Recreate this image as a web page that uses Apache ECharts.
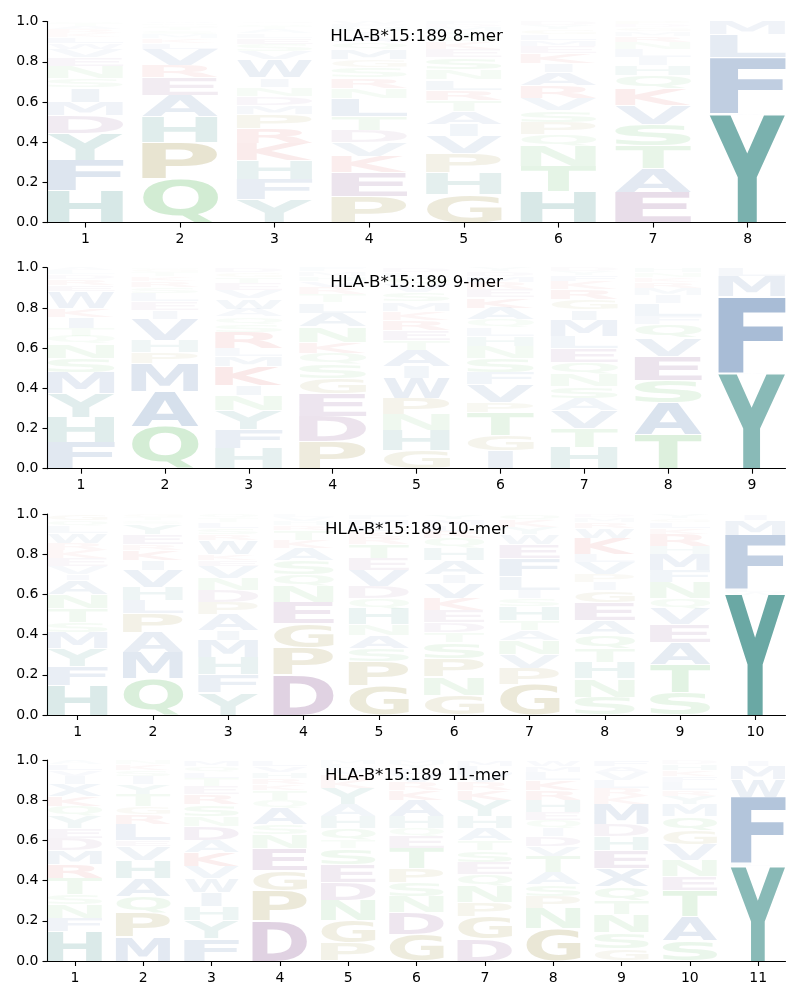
<!DOCTYPE html>
<html>
<head>
<meta charset="utf-8">
<script src="https://cdn.jsdelivr.net/npm/echarts@6/dist/echarts.min.js"></script>
<style>html,body{margin:0;padding:0;background:#fff}#chart{width:800px;height:1000px}</style>
</head>
<body>
<div id="chart"></div>
<script>
// ---------------- data ----------------
const panelTitles = ["HLA-B*15:189 8-mer", "HLA-B*15:189 9-mer", "HLA-B*15:189 10-mer", "HLA-B*15:189 11-mer"];
const positions8 = [1, 2, 3, 4, 5, 6, 7, 8];
const positions9 = [1, 2, 3, 4, 5, 6, 7, 8, 9];
const positions10 = [1, 2, 3, 4, 5, 6, 7, 8, 9, 10];
const positions11 = [1, 2, 3, 4, 5, 6, 7, 8, 9, 10, 11];
const yTickLabels = ["0.0", "0.2", "0.4", "0.6", "0.8", "1.0"];

// letters per position, bottom to top
const letters8 = [
  "HFYDMISNEVWLKRATQ", "QPHAERVLKMSTGNW", "YFHKRPMDNIWVSELATQG", "PEKVDTLNRSGMQAIHFW",
  "GHPVIATRLNSEKQYMDF", "HTNQPSVRAIKEMLGYD", "EATSVKQHILNRMGDP", "YWFLM"
];
const heights8 = [
  [.16,.15,.135,.09,.065,.07,.045,.06,.045,.04,.03,.03,.02,.02,.015,.015,.01],
  [.22,.18,.125,.11,.085,.06,.08,.03,.025,.02,.02,.015,.01,.01,.01],
  [.113,.102,.095,.085,.075,.07,.045,.045,.045,.045,.09,.04,.035,.03,.025,.02,.015,.015,.01],
  [.13,.12,.08,.07,.06,.07,.09,.05,.05,.05,.04,.05,.035,.03,.025,.02,.015,.015],
  [.14,.11,.095,.085,.06,.065,.055,.05,.05,.05,.06,.04,.035,.03,.025,.02,.015,.015],
  [.155,.125,.10,.06,.06,.06,.06,.06,.065,.045,.05,.035,.03,.03,.025,.02,.02],
  [.15,.12,.115,.105,.095,.08,.065,.05,.04,.04,.035,.03,.025,.02,.015,.015],
  [.535,.01,.275,.115,.065]
];
const letters9 = [
  "FHYMSNQTIKWERDLA", "QAMPHVIELSRKTGN", "HFYNIKMLRSQAWVETGD", "PDEGSQKNALTRVHMF",
  "GHNPWIATERKMSVQLD", "IGTPVFSNHLQAKERMDY", "HTVASNQELMIGRKFYD", "TASEVQFLIMRKNH", "YWFML"
];
const heights9 = [
  [.13,.125,.12,.105,.07,.07,.04,.04,.055,.045,.08,.03,.03,.025,.02,.015],
  [.21,.175,.14,.055,.06,.105,.045,.04,.04,.03,.03,.025,.02,.015,.01],
  [.10,.095,.095,.075,.05,.095,.05,.04,.08,.04,.035,.04,.05,.04,.035,.03,.025,.025],
  [.135,.125,.115,.075,.07,.055,.055,.075,.07,.05,.04,.035,.03,.025,.025,.02],
  [.09,.10,.08,.08,.10,.06,.08,.05,.05,.05,.045,.045,.045,.04,.035,.025,.025],
  [.09,.075,.115,.05,.09,.06,.07,.06,.05,.04,.04,.06,.05,.04,.035,.03,.025,.02],
  [.105,.095,.09,.06,.06,.06,.06,.07,.06,.08,.05,.05,.05,.04,.03,.02,.02],
  [.17,.16,.11,.12,.09,.07,.04,.06,.04,.035,.03,.025,.025,.025],
  [.47,.01,.375,.10,.045]
];
const letters10 = [
  "HFYMSTNAIVEKRWLQG", "QMAPLHVIKREYSTG", "YFHMIAPDNVEKWRSLTQ", "DPGENQSAKTRHVL",
  "GPSANHQDVETRKLMF", "GNPSTDEKVIAHQRLMY", "GPVNATHSILFEWYKQ", "SNHTQAEGIPVLKWRMD",
  "STAEVQNFMHRKLGY", "YWLFMI"
];
const heights10 = [
  [.145,.095,.09,.08,.05,.07,.07,.07,.03,.04,.04,.04,.035,.05,.035,.03,.03],
  [.18,.13,.10,.095,.065,.065,.085,.05,.05,.03,.05,.05,.02,.015,.015],
  [.11,.09,.085,.085,.05,.08,.06,.06,.06,.06,.03,.03,.07,.03,.03,.03,.02,.02],
  [.20,.135,.12,.105,.08,.06,.07,.06,.04,.05,.025,.02,.02,.015],
  [.145,.12,.065,.065,.055,.08,.05,.06,.08,.06,.07,.035,.03,.03,.03,.025],
  [.10,.09,.09,.08,.05,.05,.06,.06,.075,.045,.07,.06,.05,.035,.03,.03,.025],
  [.15,.08,.07,.07,.05,.05,.07,.04,.04,.07,.09,.07,.05,.035,.035,.03],
  [.09,.09,.08,.07,.07,.07,.09,.06,.04,.04,.06,.04,.08,.05,.03,.025,.015],
  [.11,.14,.11,.09,.08,.05,.08,.06,.08,.04,.06,.03,.03,.02,.02],
  [.597,.014,.014,.27,.075,.03]
];
const letters11 = [
  "HFNSTRMDEYQKXIVLA", "MPQAHVELRGTYISKN", "FYHIWVKADNSRETLQM", "DPGENSAQTKRHVL",
  "PGNDESTQHAYKRVLM", "GDNSPTEQHAKRVLYM", "DGPNQESTAHYKRVLM", "GNPSATVDIQEHRKLMW",
  "GSNTQXEHDMKRLVAF", "SATENVGQMYRLFKHD", "YLFWMI"
];
const heights11 = [
  [.145,.065,.07,.05,.08,.07,.07,.06,.05,.06,.05,.05,.06,.04,.03,.03,.02],
  [.12,.12,.08,.09,.09,.07,.03,.08,.05,.04,.06,.05,.04,.03,.03,.02],
  [.11,.09,.07,.07,.07,.06,.07,.06,.07,.05,.06,.05,.04,.04,.03,.03,.03],
  [.20,.15,.10,.11,.07,.05,.08,.04,.05,.03,.03,.03,.03,.03],
  [.09,.11,.10,.09,.09,.08,.04,.06,.06,.06,.08,.04,.03,.03,.02,.02],
  [.13,.11,.08,.07,.07,.10,.06,.04,.06,.08,.05,.04,.04,.03,.02,.02],
  [.11,.11,.07,.08,.06,.06,.06,.05,.06,.06,.08,.05,.04,.04,.04,.03],
  [.16,.10,.06,.06,.06,.08,.05,.05,.04,.04,.04,.06,.05,.05,.04,.03,.03],
  [.06,.08,.09,.07,.07,.09,.09,.07,.06,.10,.04,.04,.04,.04,.03,.03],
  [.10,.12,.13,.07,.08,.08,.07,.07,.06,.04,.03,.04,.03,.03,.03,.02],
  [.47,.015,.33,.09,.065,.03]
];

// ---------------- style ----------------
const GLYPH_FONT = 'bold 100px "DejaVu Sans"';
const LABEL_FONT = '"DejaVu Sans"';
const groupColors = {
  teal:   [5, 109, 103, 1.0],
  blue:   [25, 78, 147, 1.0],
  green:  [51, 169, 55, 1.0],
  olive:  [126, 108, 2, 1.0],
  purple: [100, 30, 110, 1.0],
  red:    [200, 20, 20, 1.0]
};
const letterGroup = {
  Y: 'teal', H: 'teal',
  F: 'blue', M: 'blue', A: 'blue', L: 'blue', I: 'blue', V: 'blue', W: 'blue', C: 'blue', X: 'blue',
  Q: 'green', N: 'green', S: 'green', T: 'green',
  P: 'olive', G: 'olive',
  D: 'purple', E: 'purple',
  K: 'red', R: 'red'
};
function letterFill(L, h) {
  const c = groupColors[letterGroup[L]];
  const a = Math.min(1, h * c[3]);
  return 'rgba(' + c[0] + ',' + c[1] + ',' + c[2] + ',' + a.toFixed(3) + ')';
}

// glyph ink metrics (textBaseline middle, align left)
const mcv = document.createElement('canvas');
const mctx = mcv.getContext('2d');
mctx.font = GLYPH_FONT;
mctx.textBaseline = 'middle';
mctx.textAlign = 'left';
const metricCache = {};
function glyphMetric(L) {
  if (!metricCache[L]) {
    const m = mctx.measureText(L);
    metricCache[L] = {
      left: m.actualBoundingBoxLeft,
      w: m.actualBoundingBoxLeft + m.actualBoundingBoxRight,
      asc: m.actualBoundingBoxAscent,
      h: m.actualBoundingBoxAscent + m.actualBoundingBoxDescent
    };
  }
  return metricCache[L];
}

const panels = [
  { title: panelTitles[0], pos: positions8, letters: letters8, heights: heights8 },
  { title: panelTitles[1], pos: positions9, letters: letters9, heights: heights9 },
  { title: panelTitles[2], pos: positions10, letters: letters10, heights: heights10 },
  { title: panelTitles[3], pos: positions11, letters: letters11, heights: heights11 }
];
const gridTops = [21.6, 267.7, 514, 760];
const gridHeight = 201;
const titleY = [27.9, 274.4, 520.9, 767];
const plotLeft = 47.5, plotWidth = 738;

const grids = [], xAxes = [], yAxes = [], series = [], graphics = [];
panels.forEach(function (p, gi) {
  grids.push({ left: plotLeft, width: plotWidth, top: gridTops[gi], height: gridHeight, containLabel: false });
  const n = p.pos.length;
  xAxes.push({
    gridIndex: gi, type: 'value', min: 0.6, max: n + 0.4,
    axisLine: { show: true, onZero: false, lineStyle: { color: '#000', width: 1.1 } },
    axisTick: { show: true, length: 5, customValues: p.pos, lineStyle: { color: '#000', width: 1.1 } },
    axisLabel: { show: true, customValues: p.pos, color: '#000', fontSize: 14, fontFamily: LABEL_FONT, margin: 10 },
    splitLine: { show: false }
  });
  yAxes.push({
    gridIndex: gi, type: 'value', min: 0, max: 1, interval: 0.2,
    axisLine: { show: true, lineStyle: { color: '#000', width: 1.1 } },
    axisTick: { show: true, length: 5, lineStyle: { color: '#000', width: 1.1 } },
    axisLabel: { color: '#000', fontSize: 14, fontFamily: LABEL_FONT, margin: 9,
      formatter: function (v) { return yTickLabels[Math.round(v * 5)]; } },
    splitLine: { show: false }
  });
  // build stacked rectangles
  const data = [], glyphs = [];
  p.pos.forEach(function (pos, ci) {
    const ls = p.letters[ci], hs = p.heights[ci];
    let cum = 0;
    for (let k = 0; k < ls.length; k++) {
      data.push([pos, cum, cum + hs[k]]);
      glyphs.push(ls[k]);
      cum += hs[k];
    }
  });
  series.push({
    type: 'custom', xAxisIndex: gi, yAxisIndex: gi, silent: true, animation: false,
    data: data,
    clip: false,
    renderItem: function (params, api) {
      const pos = api.value(0), b = api.value(1), t = api.value(2);
      const L = glyphs[params.dataIndex];
      const p0 = api.coord([pos - 0.4, b]);
      const p1 = api.coord([pos + 0.4, t]);
      let x0 = p0[0], w = p1[0] - p0[0];
      if (L === 'I') { const nw = w * 0.37; x0 += (w - nw) / 2; w = nw; }
      const top = p1[1] + 0.4;
      const h = (p0[1] - p1[1]) - 0.8;
      if (h <= 0.3) return null;
      const m = glyphMetric(L);
      const sx = w / m.w, sy = h / m.h;
      return {
        type: 'text',
        x: x0 + m.left * sx,
        y: top + m.asc * sy,
        scaleX: sx, scaleY: sy,
        style: { text: L, font: GLYPH_FONT, fill: letterFill(L, t - b), align: 'left', verticalAlign: 'middle' }
      };
    }
  });
  graphics.push({
    type: 'text', x: plotLeft + plotWidth / 2, y: titleY[gi], silent: true,
    style: { text: p.title, font: '16.7px "DejaVu Sans"', fill: '#000', align: 'center', verticalAlign: 'top' }
  });
});

const chart = echarts.init(document.getElementById('chart'), null, { renderer: 'canvas' });
chart.setOption({
  animation: false,
  backgroundColor: '#fff',
  grid: grids,
  xAxis: xAxes,
  yAxis: yAxes,
  series: series,
  graphic: graphics
});
</script>
</body>
</html>
